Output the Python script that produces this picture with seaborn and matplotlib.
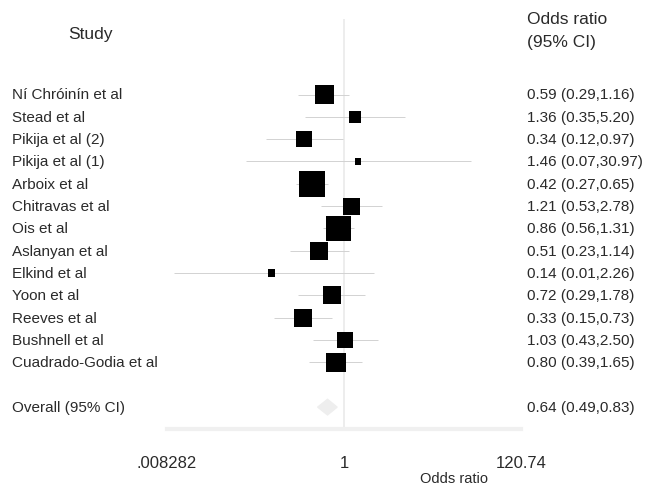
import matplotlib
matplotlib.use("Agg")
import matplotlib.pyplot as plt
import matplotlib.transforms as mtransforms
import seaborn as sns
import numpy as np
import pandas as pd

studies = ["Ní Chróinín et al", "Stead et al", "Pikija et al (2)", "Pikija et al (1)",
           "Arboix et al", "Chitravas et al", "Ois et al", "Aslanyan et al",
           "Elkind et al", "Yoon et al", "Reeves et al", "Bushnell et al",
           "Cuadrado-Godia et al"]
odds = [0.59, 1.36, 0.34, 1.46, 0.42, 1.21, 0.86, 0.51, 0.14, 0.72, 0.33, 1.03, 0.80]
ci_low = [0.29, 0.35, 0.12, 0.07, 0.27, 0.53, 0.56, 0.23, 0.01, 0.29, 0.15, 0.43, 0.39]
ci_high = [1.16, 5.20, 0.97, 30.97, 0.65, 2.78, 1.31, 1.14, 2.26, 1.78, 0.73, 2.50, 1.65]
weights = [9.33, 3.53, 5.89, 1.03, 15.95, 7.09, 15.95, 7.51, 1.37, 7.95, 8.39, 6.67, 9.33]
overall_label = "Overall (95% CI)"
overall = [0.64, 0.49, 0.83]
tick_vals = [0.008282, 1, 120.74]
tick_labels = [".008282", "1", "120.74"]

sns.set_theme(style="white")
plt.rcParams["font.family"] = ["Liberation Sans", "DejaVu Sans"]

TXT = "#2a2a2a"
W, H = 648, 485
fig = plt.figure(figsize=(W / 100, H / 100), dpi=100)
fig.patch.set_facecolor("white")

row0_px, row_step = 95.5, 22.33
top_px, bot_px = 20, 430
left_px, right_px = 167, 521
ax = fig.add_axes([left_px / W, 1 - bot_px / H, (right_px - left_px) / W, (bot_px - top_px) / H])
ax.set_xscale("log")
ax.set_xlim(tick_vals[0], tick_vals[-1])
ax.set_ylim((bot_px - row0_px) / row_step, (top_px - row0_px) / row_step)

rows = np.arange(len(studies))
overall_row = len(studies) + 1

df = pd.DataFrame({"study": studies, "odds": odds, "lo": ci_low, "hi": ci_high,
                   "w": weights, "row": rows})

# null line
ax.axvline(1, color="#ededed", lw=1.4, zorder=0)

# CI lines
ax.hlines(df["row"], df["lo"], df["hi"], color="#d2d2d2", lw=0.7, zorder=1)

# boxes, area proportional to weight
def side_pt(w):
    return 6.38 * np.sqrt(w) * 0.72

size_map = {w: side_pt(w) ** 2 for w in weights}
sns.scatterplot(data=df, x="odds", y="row", size="w", sizes=size_map, marker="s",
                color="black", edgecolor="none", legend=False, ax=ax, zorder=3)

# overall diamond
est, lo, hi = overall
ax.fill([lo, est, hi, est], [overall_row, overall_row - 0.35, overall_row, overall_row + 0.35],
        color="#eeeeee", zorder=2)

# axis styling
for s in ["top", "right", "left"]:
    ax.spines[s].set_visible(False)
ax.spines["bottom"].set_color("#f0f0f0")
ax.spines["bottom"].set_linewidth(3)
ax.set_yticks([])
ax.set_xticks(tick_vals)
ax.set_xticklabels(tick_labels, fontsize=12, color=TXT)
ax.minorticks_off()
ax.tick_params(axis="x", length=0, pad=19)
ax.set_xlabel("")
ax.set_ylabel("")

# text columns
trans_l = mtransforms.blended_transform_factory(fig.transFigure, ax.transData)
for r, name in zip(rows, studies):
    ax.text(12 / W, r, name, transform=trans_l, ha="left", va="center",
            fontsize=11, color=TXT)
    i = int(r)
    ax.text(527 / W, r, f"{odds[i]:.2f} ({ci_low[i]:.2f},{ci_high[i]:.2f})", transform=trans_l,
            ha="left", va="center", fontsize=11, color=TXT)
ax.text(12 / W, overall_row, overall_label, transform=trans_l, ha="left", va="center",
        fontsize=11, color=TXT)
ax.text(527 / W, overall_row, f"{overall[0]:.2f} ({overall[1]:.2f},{overall[2]:.2f})",
        transform=trans_l, ha="left", va="center", fontsize=11, color=TXT)

fig.text(90 / W, 1 - 35 / H, "Study", ha="center", va="center", fontsize=12.5, color=TXT)
fig.text(527 / W, 1 - 20 / H, "Odds ratio", ha="left", va="center", fontsize=12.5, color=TXT)
fig.text(527 / W, 1 - 42 / H, "(95% CI)", ha="left", va="center", fontsize=12.5, color=TXT)
fig.text(454 / W, 1 - 479 / H, "Odds ratio", ha="center", va="center", fontsize=10.5, color=TXT)

fig.savefig("out.png", dpi=100, facecolor="white")
